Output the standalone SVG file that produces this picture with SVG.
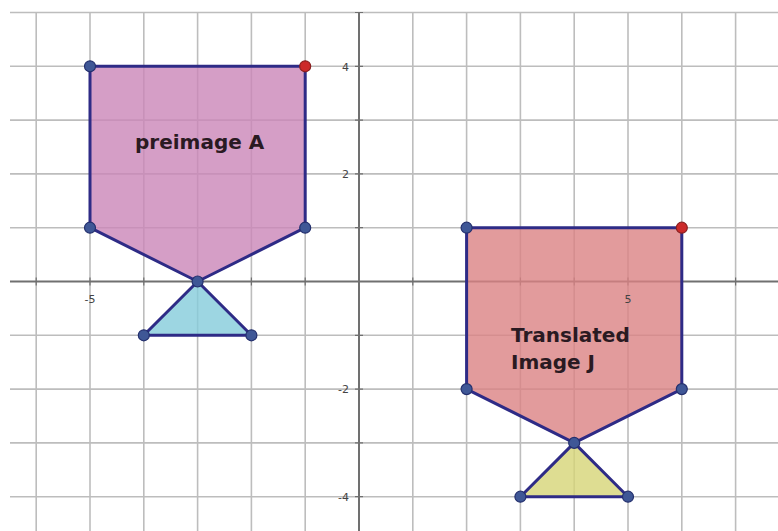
<svg xmlns="http://www.w3.org/2000/svg" width="778" height="531" viewBox="0 0 778 531">
<style>
.grid{stroke:#bdbdbd;stroke-width:1.6;fill:none}
.axis{stroke:#707070;stroke-width:2;fill:none}
.tick{stroke:#707070;stroke-width:1.2}
.shape{stroke:#2e2b86;stroke-width:3;stroke-linejoin:round;fill-opacity:0.8}
.pt{fill:#3f5796;stroke:#24306e;stroke-width:1.2}
.ptr{fill:#cc2a2a;stroke:#8a2020;stroke-width:1.2}
.lbl{font-family:"DejaVu Sans",Verdana,sans-serif;font-weight:bold;font-size:20px;fill:#2a1a22}
.ax{font-family:"DejaVu Sans",Verdana,sans-serif;font-size:11px;fill:#444}
</style>
<rect width="778" height="531" fill="#ffffff"/>
<g id="grid">
<path class="grid" d="M10 12.5H778M10 66.3H778M10 120.1H778M10 173.9H778M10 227.7H778M10 335.3H778M10 389.1H778M10 442.9H778M10 496.7H778"/>
<path class="grid" d="M36.2 12.5V531M90 12.5V531M143.8 12.5V531M197.6 12.5V531M251.4 12.5V531M305.2 12.5V531M412.8 12.5V531M466.6 12.5V531M520.4 12.5V531M574.2 12.5V531M628 12.5V531M681.8 12.5V531M735.6 12.5V531"/>
<path class="axis" d="M10 281.5H778M359 12.5V531"/>
<path class="tick" d="M36.2 277.5v8M90 277.5v8M143.8 277.5v8M197.6 277.5v8M251.4 277.5v8M305.2 277.5v8M412.8 277.5v8M466.6 277.5v8M520.4 277.5v8M574.2 277.5v8M628 277.5v8M681.8 277.5v8M735.6 277.5v8"/>
<path class="tick" d="M355 12.5h8M355 66.3h8M355 120.1h8M355 173.9h8M355 227.7h8M355 335.3h8M355 389.1h8M355 442.9h8M355 496.7h8"/>
</g>
<g id="preimage-A">
<polygon class="shape" fill="#cb86b8" points="90,66.3 305.2,66.3 305.2,227.7 197.6,281.5 90,227.7"/>
<text class="lbl" x="135" y="149">preimage A</text>
</g>
<g id="preimage-triangle">
<polygon class="shape" fill="#85ccdb" points="197.6,281.5 143.8,335.3 251.4,335.3"/>
</g>
<g id="translated-J">
<polygon class="shape" fill="#db8283" points="466.6,227.7 681.8,227.7 681.8,389.1 574.2,442.9 466.6,389.1"/>
<text class="lbl" x="511" y="342">Translated</text>
<text class="lbl" x="511" y="369">Image J</text>
</g>
<g id="translated-triangle">
<polygon class="shape" fill="#d6d577" points="574.2,442.9 520.4,496.7 628,496.7"/>
</g>
<g id="axis-labels">
<text class="ax" x="90" y="303" text-anchor="middle">-5</text>
<text class="ax" x="628" y="303" text-anchor="middle">5</text>
<text class="ax" x="349" y="71" text-anchor="end">4</text>
<text class="ax" x="349" y="178" text-anchor="end">2</text>
<text class="ax" x="349" y="393" text-anchor="end">-2</text>
<text class="ax" x="349" y="501" text-anchor="end">-4</text>
</g>
<g id="points">
<circle class="pt" cx="90" cy="66.3" r="5.5"/>
<circle class="ptr" cx="305.2" cy="66.3" r="5.5"/>
<circle class="pt" cx="305.2" cy="227.7" r="5.5"/>
<circle class="pt" cx="197.6" cy="281.5" r="5.5"/>
<circle class="pt" cx="90" cy="227.7" r="5.5"/>
<circle class="pt" cx="143.8" cy="335.3" r="5.5"/>
<circle class="pt" cx="251.4" cy="335.3" r="5.5"/>
<circle class="pt" cx="466.6" cy="227.7" r="5.5"/>
<circle class="ptr" cx="681.8" cy="227.7" r="5.5"/>
<circle class="pt" cx="681.8" cy="389.1" r="5.5"/>
<circle class="pt" cx="574.2" cy="442.9" r="5.5"/>
<circle class="pt" cx="466.6" cy="389.1" r="5.5"/>
<circle class="pt" cx="520.4" cy="496.7" r="5.5"/>
<circle class="pt" cx="628" cy="496.7" r="5.5"/>
</g>
</svg>
